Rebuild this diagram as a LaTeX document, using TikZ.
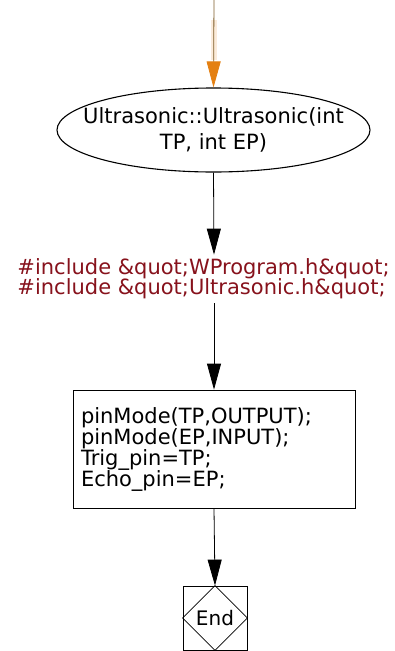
\documentclass[tikz,border=0pt]{standalone}
\usepackage{fontspec}
\setmainfont{DejaVu Sans}
\usetikzlibrary{arrows.meta,shapes.geometric}
\definecolor{inclred}{RGB}{135,18,28}
\definecolor{flowgold}{RGB}{228,128,18}
\definecolor{flowstem}{RGB}{125,92,40}
\tikzset{
  chartfont/.style={font=\fontsize{21pt}{21pt}\selectfont},
  flow/.style={line width=0.8pt, -{Triangle[length=26pt,width=14pt]}},
  ctorshape/.style={draw, ellipse, line width=1.1pt, minimum width=313pt, minimum height=84pt, inner xsep=-20pt, inner ysep=4pt, align=center, chartfont},
  inclbox/.style={align=left, inner sep=4pt, text=inclred, chartfont},
  bodybox/.style={draw, rectangle, line width=0.8pt, minimum height=118pt, text width=266pt, inner xsep=8pt, align=left, chartfont},
  endbox/.style={draw, rectangle, line width=0.8pt, minimum size=64pt, inner sep=0pt, font=\fontsize{20pt}{20pt}\selectfont}
}
\begin{document}
\begin{tikzpicture}[x=1pt,y=1pt]
		%%%%% START %%%%%
		\useasboundingbox (0, 0) rectangle (395, -651);
		
		\coordinate (entry) at (214, 0);
		\node[ctorshape] (ctor) at (213.5, -130) {Ultrasonic::Ultrasonic(int\\[5pt]TP, int EP)};
		\node[inclbox] (incl) at (203.5, -279) {\#include \&quot;WProgram.h\&quot;\\[-1pt]\#include \&quot;Ultrasonic.h\&quot;};
		\node[bodybox] (body) at (214, -449) {pinMode(TP,OUTPUT);\\pinMode(EP,INPUT);\\Trig\_pin=TP;\\Echo\_pin=EP;};
		\node[endbox] (stop) at (215, -618) {End};
		\draw[line width=0.8pt] (stop.north) -- (stop.east) -- (stop.south) -- (stop.west) -- cycle;
		
		% entry arrow with glow
		\draw[line width=6pt, color=flowgold!45, opacity=0.35] ([yshift=-20pt]entry) -- ([yshift=-60pt]entry);
		\draw[flow, color=flowstem, -{Triangle[length=26pt,width=14pt,fill=flowgold,color=flowgold]}] (entry) -- (ctor.north);
		
		\draw[flow] (ctor.south) -- (214, -252 |- incl.north);
		\draw[flow] (214, 0 |- incl.south) -- (body.north);
		\draw[flow] (body.south) -- (stop.north);
		%%%%% END %%%%%
\end{tikzpicture}
\end{document}
